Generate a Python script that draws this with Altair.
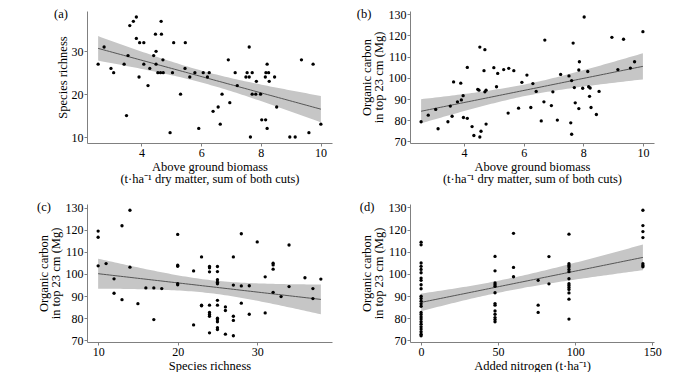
import altair as alt
import numpy as np
import pandas as pd

FONT = "Liberation Serif"

# ---------------- data ----------------
# (a) species richness vs above ground biomass
biomass_a = [2.55, 2.75, 2.98, 3.07, 3.42, 3.50, 3.55, 3.61, 3.73, 3.83, 3.83, 3.92, 3.94,
             4.08, 4.08, 4.22, 4.28, 4.41, 4.47, 4.49, 4.49, 4.55, 4.66, 4.67, 4.64, 4.72,
             4.73, 4.96, 5.04, 5.08, 5.31, 5.46, 5.47, 5.62, 5.79, 5.92, 6.07, 6.21, 6.27,
             6.40, 6.57, 6.64, 6.70, 6.91, 6.96, 7.14, 7.21, 7.50, 7.54, 7.61, 7.61, 7.65,
             7.71, 7.71, 7.83, 7.85, 7.99, 8.03, 8.15, 8.16, 8.17, 8.21, 8.21, 8.26, 8.28,
             8.46, 8.53, 8.97, 9.15, 9.36, 9.61, 9.75, 10.01]
richness_a = [27, 31, 26, 25, 27, 15, 29, 36, 37, 38, 33, 24, 32,
              32, 27, 22, 26, 29, 34, 27, 30, 25, 37, 34, 25, 28,
              25, 11, 25, 32, 20, 26, 32, 24, 25, 12, 25, 24, 25,
              16, 17, 13, 20, 28, 18, 25, 22, 24, 25, 24, 31, 10,
              25, 20, 20, 23, 20, 14, 24, 14, 25, 27, 12, 25, 23,
              24, 17, 10, 10, 28, 11, 27, 13]

# (b) organic carbon vs above ground biomass
biomass_b = [2.56, 2.80, 3.05, 3.13, 3.46, 3.54, 3.60, 3.65, 3.78, 3.89, 3.91, 3.97, 3.98,
             4.11, 4.11, 4.27, 4.33, 4.46, 4.50, 4.53, 4.53, 4.57, 4.67, 4.70, 4.70, 4.74,
             4.74, 5.00, 5.09, 5.13, 5.33, 5.48, 5.50, 5.67, 5.83, 5.94, 6.11, 6.24, 6.31,
             6.42, 6.59, 6.68, 6.71, 6.93, 6.98, 7.13, 7.24, 7.52, 7.58, 7.61, 7.61, 7.66,
             7.70, 7.73, 7.85, 7.87, 7.85, 7.98, 8.03, 8.15, 8.18, 8.21, 8.23, 8.26, 8.44,
             8.53, 8.96, 9.16, 9.35, 9.58, 9.72, 10.00]
carbon_b = [79.3, 82.4, 85.1, 76.0, 79.3, 86.7, 81.9, 98.1, 88.7, 97.5, 89.6, 91.6, 81.3,
            104.9, 80.9, 77.0, 72.8, 94.6, 94.2, 114.5, 72.1, 74.8, 103.4, 113.3, 93.4, 94.2,
            78.2, 104.8, 95.8, 102.1, 103.9, 83.4, 104.5, 103.4, 85.7, 97.9, 101.3, 86.0, 97.3,
            93.6, 79.7, 88.7, 117.8, 86.9, 93.4, 80.1, 101.6, 100.9, 78.8, 98.7, 73.4, 116.4,
            95.4, 88.2, 85.5, 107.6, 103.7, 95.1, 128.7, 103.0, 95.8, 91.3, 95.2, 86.0, 82.7,
            93.6, 119.1, 103.9, 118.2, 104.6, 107.6, 121.8]

# (c) organic carbon vs species richness
richness_c = [10, 10, 10, 11, 12, 12, 13, 13, 14, 14, 15, 16, 17, 17, 18,
              20, 20, 20, 20, 20, 22, 22, 23, 23, 23,
              24, 24, 24, 24, 24, 24, 24, 24,
              25, 25, 25, 25, 25, 25, 25, 25, 25, 25, 25, 25,
              26, 26, 26, 27, 27, 27, 27, 27, 28, 28, 28, 29, 29, 30, 31, 31,
              32, 32, 32, 32, 33, 34, 34, 36, 37, 37, 38]
carbon_c = [119.4, 116.6, 103.7, 104.7, 97.8, 91.3, 121.8, 88.4, 128.8, 103.1, 86.6, 93.7, 93.7, 79.4, 93.4,
            117.9, 104.0, 103.5, 95.6, 95.1, 101.4, 77.0, 107.7, 85.9, 85.6,
            103.4, 102.8, 101.0, 85.9, 82.6, 81.7, 80.9, 73.4,
            103.4, 101.1, 97.4, 96.3, 95.6, 88.1, 85.9, 80.0, 79.3, 78.4, 75.7, 74.9,
            85.1, 83.5, 72.8, 107.7, 95.0, 80.9, 79.0, 72.1, 118.2, 94.6, 86.8, 94.7, 81.8, 114.5, 98.7, 82.4,
            104.9, 104.1, 102.2, 91.7, 89.8, 113.1, 94.3, 98.3, 93.4, 88.9, 97.7]

# (d) organic carbon vs added nitrogen
nitrogen_d = [0] * 26 + [48] * 13 + [60] * 3 + [76] * 3 + [83] * 2 + [96] * 14 + [144] * 7
carbon_d = [114.3, 113.1, 104.9, 103.4, 102.0, 100.5, 98.1, 97.1, 95.1, 93.3, 89.9, 88.9, 87.7,
            86.5, 85.4, 82.6, 81.7, 80.6, 79.6, 78.4, 77.3, 76.1, 75.1, 73.9, 72.8, 72.1,
            107.9, 101.4, 95.9, 95.1, 94.4, 91.5, 86.6, 85.9, 83.3, 81.8, 80.3, 79.4, 78.4,
            118.3, 102.9, 98.7,
            97.1, 85.9, 82.6,
            107.8, 95.5,
            117.9, 104.6, 103.8, 103.1, 102.0, 101.0, 97.8, 95.6, 94.8, 93.9, 93.0, 91.4, 88.6, 79.6,
            128.7, 121.8, 119.1, 116.4, 104.6, 103.8, 103.2]

carbon_title = ["Organic carbon", "in top 23 cm (Mg)"]
biomass_title = ["Above ground biomass", "(t\u00b7ha\u207b\u00b9 dry matter, sum of both cuts)"]
richness_title = "Species richness"
nitrogen_title = "Added nitrogen (t\u00b7ha\u207b\u00b9)"

carbon_ticks = [70, 80, 90, 100, 110, 120, 130]


def panel(xv, yv, xticks, yticks, xtitle, ytitle, tag, tag_dx, width, height):
    x = np.asarray(xv, float)
    y = np.asarray(yv, float)
    n = len(x)
    b1, b0 = np.polyfit(x, y, 1)
    resid = y - (b0 + b1 * x)
    s = np.sqrt((resid ** 2).sum() / (n - 2))
    xbar = x.mean()
    sxx = ((x - xbar) ** 2).sum()
    grid = np.linspace(x.min(), x.max(), 80)
    fit = b0 + b1 * grid
    se = s * np.sqrt(1.0 / n + (grid - xbar) ** 2 / sxx)
    tq = 1.99
    band = pd.DataFrame({"x": grid, "fit": fit, "lo": fit - tq * se, "hi": fit + tq * se})
    pts = pd.DataFrame({"x": x, "y": y})

    xr = x.max() - x.min()
    ylo = min(y.min(), band["lo"].min())
    yhi = max(y.max(), band["hi"].max())
    yr = yhi - ylo
    xs = alt.Scale(domain=[x.min() - 0.05 * xr, x.max() + 0.05 * xr], nice=False, zero=False)
    ys = alt.Scale(domain=[ylo - 0.05 * yr, yhi + 0.05 * yr], nice=False, zero=False)
    xax = alt.Axis(values=xticks, title=xtitle)
    yax = alt.Axis(values=yticks, title=ytitle)

    area = alt.Chart(band).mark_area(color="#c6c6c6", opacity=1).encode(
        x=alt.X("x:Q", scale=xs, axis=xax),
        y=alt.Y("lo:Q", scale=ys, axis=yax),
        y2="hi:Q",
    )
    line = alt.Chart(band).mark_line(color="#555555", strokeWidth=1).encode(
        x=alt.X("x:Q", scale=xs, axis=xax),
        y=alt.Y("fit:Q", scale=ys, axis=yax),
    )
    dots = alt.Chart(pts).mark_circle(color="black", size=11, opacity=1).encode(
        x=alt.X("x:Q", scale=xs, axis=xax),
        y=alt.Y("y:Q", scale=ys, axis=yax),
    )
    label = alt.Chart(pd.DataFrame({"t": [tag]})).mark_text(
        font=FONT, fontSize=12.5, align="center", baseline="middle", color="black"
    ).encode(x=alt.value(tag_dx), y=alt.value(3), text="t:N")
    return alt.layer(area, line, dots, label).properties(width=width, height=height)


pa = panel(biomass_a, richness_a, [4, 6, 8, 10], [10, 20, 30], biomass_title, richness_title,
           "(a)", -26, 245, 132)
pb = panel(biomass_b, carbon_b, [4, 6, 8, 10], carbon_ticks, biomass_title, carbon_title,
           "(b)", -46, 244, 132)
pc = panel(richness_c, carbon_c, [10, 20, 30], carbon_ticks, richness_title, carbon_title,
           "(c)", -43, 245, 138)
pd_ = panel(nitrogen_d, carbon_d, [0, 50, 100, 150], carbon_ticks, nitrogen_title, carbon_title,
            "(d)", -43, 244, 138)

chart = alt.concat(
    pa, pb, pc, pd_, columns=2, spacing={"row": 61, "column": 78}, bounds="flush"
).properties(
    padding={"left": 29, "top": 0, "right": 5, "bottom": 0}
).configure_view(stroke=None).configure_axis(
    grid=False,
    domainColor="#808080",
    tickColor="#808080",
    tickSize=3,
    labelPadding=1,
    titlePadding=2,
    labelFont=FONT,
    labelFontSize=12,
    labelColor="black",
    titleFont=FONT,
    titleFontSize=12.5,
    titleFontWeight="normal",
    titleColor="black",
    titleLineHeight=12.7,
)

chart.save("out.html", embed_options={"renderer": "svg", "actions": False})
